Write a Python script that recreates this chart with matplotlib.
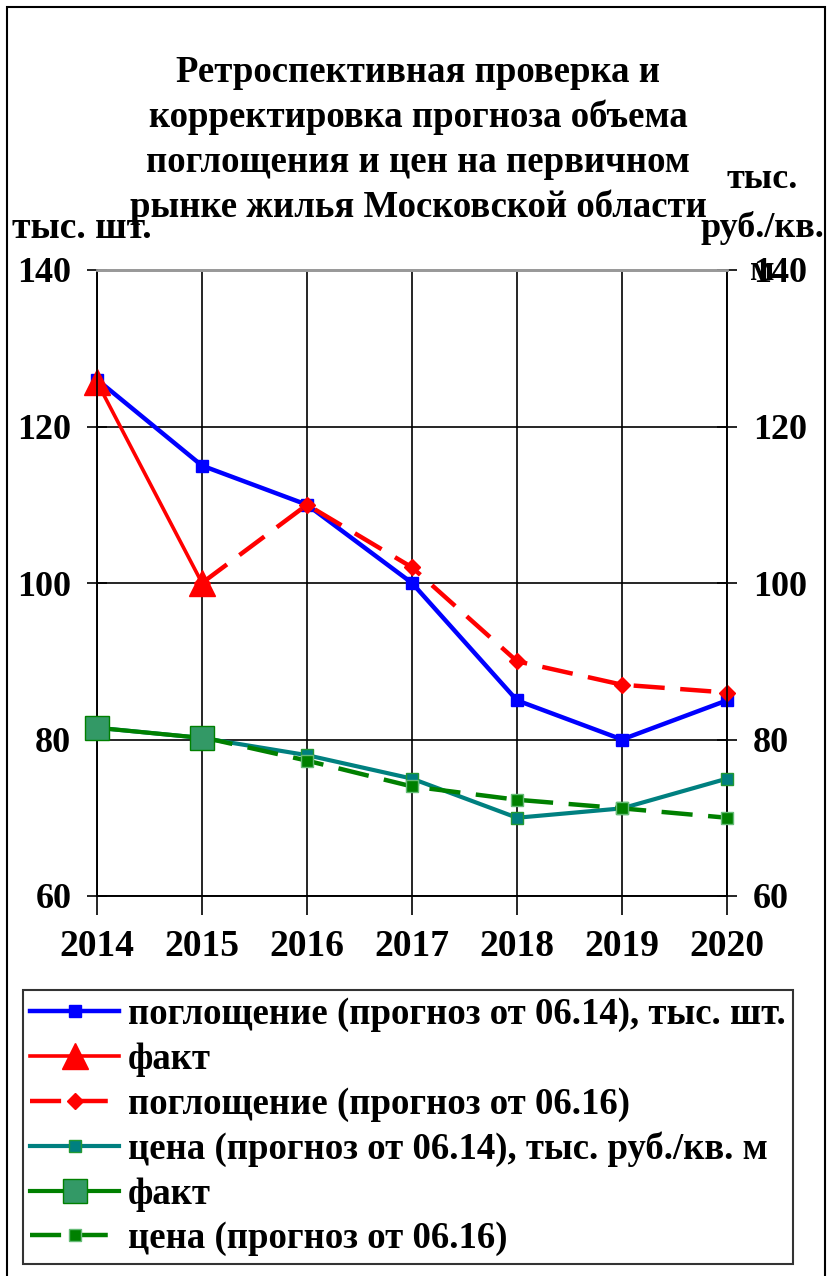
import matplotlib
matplotlib.use("Agg")
import matplotlib.pyplot as plt
from matplotlib.patches import Rectangle

plt.rcParams['font.family'] = ['Liberation Serif', 'DejaVu Serif']
plt.rcParams['font.weight'] = 'bold'

# данные
years = [2014, 2015, 2016, 2017, 2018, 2019, 2020]
pogl_06_14 = [126, 115, 110, 100, 85, 80, 85]
pogl_fakt_years = [2014, 2015]
pogl_fakt = [125.7, 100]
pogl_06_16_years = [2015, 2016, 2017, 2018, 2019, 2020]
pogl_06_16 = [100, 110, 102, 90, 87, 86]
cena_06_14 = [81.5, 80.2, 78, 75, 70, 71.2, 75]
cena_fakt_years = [2014, 2015]
cena_fakt = [81.5, 80.2]
cena_06_16_years = [2015, 2016, 2017, 2018, 2019, 2020]
cena_06_16 = [80.3, 77.3, 74, 72.3, 71.2, 70]

W, H = 828, 1276
fig = plt.figure(figsize=(W / 100, H / 100), dpi=100)

# рамка вокруг всей картинки
fig.patches.append(Rectangle((7 / W, -0.01), (825 - 7) / W, 1 - 7 / H + 0.01,
                             transform=fig.transFigure, fill=False,
                             edgecolor='black', linewidth=1.5))

ax = fig.add_axes([97 / W, 1 - 896 / H, (727 - 97) / W, (896 - 270) / H])
ax2 = ax.twinx()

ax.set_xlim(2014, 2020)
ax.set_ylim(60, 140)
ax2.set_ylim(60, 140)
ax.set_xticks(years)
ax.set_yticks([60, 80, 100, 120, 140])
ax2.set_yticks([60, 80, 100, 120, 140])

for a in (ax, ax2):
    for s in a.spines.values():
        s.set_linewidth(1.2)
    a.spines['top'].set_color('#999999')
    a.spines['top'].set_linewidth(2)
ax.grid(True, color='black', linewidth=1.2)

ax.tick_params(axis='y', direction='inout', length=15, width=1.2, labelsize=26, pad=11)
ax2.tick_params(axis='y', direction='inout', length=15, width=1.2, labelsize=26, pad=11)
ax.tick_params(axis='x', direction='out', length=14, width=1.2, labelsize=27, pad=10)

h1, = ax.plot(years, pogl_06_14, color='#0000FF', linewidth=3.2, marker='s',
              markersize=9, label='поглощение (прогноз от 06.14), тыс. шт.',
              zorder=5, clip_on=False)
h2, = ax.plot(pogl_fakt_years, pogl_fakt, color='#FF0000', linewidth=2.6, marker='^',
              markersize=19, label='факт', zorder=6, clip_on=False)
h3, = ax.plot(pogl_06_16_years, pogl_06_16, color='#FF0000', linewidth=3.2, marker='D',
              markersize=8, dashes=(7, 3.5), label='поглощение (прогноз от 06.16)',
              zorder=5, clip_on=False)
h4, = ax2.plot(years, cena_06_14, color='#008080', linewidth=3, marker='s',
               markersize=9, markerfacecolor='#008080', markeredgecolor='#229933',
               label='цена (прогноз от 06.14), тыс. руб./кв. м', zorder=5, clip_on=False)
h5, = ax2.plot(cena_fakt_years, cena_fakt, color='#008000', linewidth=3, marker='s',
               markersize=17, markerfacecolor='#339966', markeredgecolor='#008000',
               label='факт', zorder=6, clip_on=False)
h6, = ax2.plot(cena_06_16_years, cena_06_16, color='#008000', linewidth=3.2, marker='s',
               markersize=8, markerfacecolor='#008000', markeredgecolor='#66BB77',
               dashes=(7, 3.5), label='цена (прогноз от 06.16)', zorder=5, clip_on=False)

# заголовок
title_lines = ['Ретроспективная проверка и',
               'корректировка прогноза объема',
               'поглощения и цен на первичном',
               'рынке жилья Московской области']
for i, t in enumerate(title_lines):
    fig.text(418 / W, 1 - (72 + i * 45) / H, t, ha='center', va='center',
             fontsize=26.5, fontweight='bold')

# подписи осей
fig.text(12 / W, 1 - 228 / H, 'тыс. шт.', ha='left', va='center', fontsize=27)
fig.text(762 / W, 1 - 180 / H, 'тыс.', ha='center', va='center', fontsize=26)
fig.text(824 / W, 1 - 228 / H, 'руб./кв.', ha='right', va='center', fontsize=26)
fig.text(762 / W, 1 - 272 / H, 'м', ha='center', va='center', fontsize=26)

# легенда
leg = fig.legend(handles=[h1, h2, h3, h4, h5, h6],
                 loc='upper left', bbox_to_anchor=(23 / W, 1 - 990 / H),
                 fontsize=26.5, frameon=True, fancybox=False, edgecolor='black',
                 handlelength=2.4, handletextpad=0.25, labelspacing=0.26,
                 borderpad=0.2, borderaxespad=0)
leg.get_frame().set_linewidth(1.5)

fig.savefig('out.png', dpi=100)
